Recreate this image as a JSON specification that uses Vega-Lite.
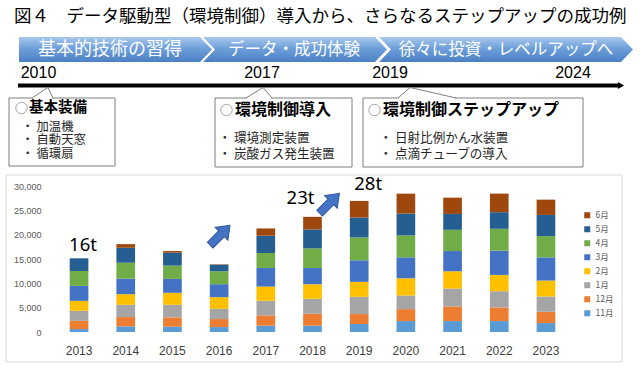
{
  "$schema": "https://vega.github.io/schema/vega-lite/v6.json",
  "autosize": {"type": "none"},
  "padding": {"left": 55, "top": 186, "right": 70, "bottom": 34},
  "width": 515,
  "height": 146,
  "background": "white",
  "config": {"font": "Noto Sans CJK JP", "view": {"stroke": null}},
  "layer": [
    {
      "encoding": {
        "x": {"field": "x", "type": "quantitative", "scale": {"domain": [55, 570], "zero": false, "nice": false}, "axis": null},
        "y": {"field": "y", "type": "quantitative", "scale": {"domain": [186, 332], "reverse": true, "zero": false, "nice": false}, "axis": null}
      },
      "layer": [
        {
          "data": {"values": [{"x": 6, "x2": 622, "y": 175, "y2": 362}]},
          "mark": {"type": "rect", "filled": false, "stroke": "#d9d9d9", "strokeWidth": 1},
          "encoding": {"x2": {"field": "x2"}, "y2": {"field": "y2"}}
        },
        {
          "data": {"values": [{"x": 14, "y": 17, "t": "図４　データ駆動型（環境制御）導入から、さらなるステップアップの成功例"}]},
          "mark": {"type": "text", "align": "left", "baseline": "middle", "fontSize": 17.5, "color": "#000000"},
          "encoding": {"text": {"field": "t"}}
        },
        {
          "data": {"values": [{"x": 115.5, "y": 49.5}]},
          "mark": {"type": "point", "shape": "M -96.5 -12.5 L 84.5 -12.5 L 96.5 0 L 84.5 12.5 L -96.5 12.5 Z", "size": 4, "filled": true, "opacity": 1, "strokeWidth": 0,
            "fill": {"gradient": "linear", "x1": 0, "y1": 0, "x2": 0, "y2": 1, "stops": [{"offset": 0, "color": "#A9C8EC"}, {"offset": 0.45, "color": "#6E9FDA"}, {"offset": 1, "color": "#4C80C4"}]}}
        },
        {
          "data": {"values": [{"x": 295, "y": 49.5}]},
          "mark": {"type": "point", "shape": "M -92 -12.5 L 80 -12.5 L 92 0 L 80 12.5 L -92 12.5 L -80 0 Z", "size": 4, "filled": true, "opacity": 1, "strokeWidth": 0,
            "fill": {"gradient": "linear", "x1": 0, "y1": 0, "x2": 0, "y2": 1, "stops": [{"offset": 0, "color": "#A9C8EC"}, {"offset": 0.45, "color": "#6E9FDA"}, {"offset": 1, "color": "#4C80C4"}]}}
        },
        {
          "data": {"values": [{"x": 506, "y": 49.5}]},
          "mark": {"type": "point", "shape": "M -127 -12.5 L 115 -12.5 L 127 0 L 115 12.5 L -127 12.5 L -115 0 Z", "size": 4, "filled": true, "opacity": 1, "strokeWidth": 0,
            "fill": {"gradient": "linear", "x1": 0, "y1": 0, "x2": 0, "y2": 1, "stops": [{"offset": 0, "color": "#A9C8EC"}, {"offset": 0.45, "color": "#6E9FDA"}, {"offset": 1, "color": "#4C80C4"}]}}
        },
        {
          "data": {"values": [{"x": 110, "y": 49.5, "t": "基本的技術の習得"}]},
          "mark": {"type": "text", "align": "center", "baseline": "middle", "fontSize": 18, "color": "#ffffff"},
          "encoding": {"text": {"field": "t"}}
        },
        {
          "data": {"values": [{"x": 294, "y": 49.5, "t": "データ・成功体験"}, {"x": 506, "y": 49.5, "t": "徐々に投資・レベルアップへ"}]},
          "mark": {"type": "text", "align": "center", "baseline": "middle", "fontSize": 16.5, "color": "#ffffff"},
          "encoding": {"text": {"field": "t"}}
        },
        {
          "data": {"values": [{"x": 38.5, "y": 72.5, "t": "2010"}, {"x": 262, "y": 72.5, "t": "2017"}, {"x": 390, "y": 72.5, "t": "2019"}, {"x": 573, "y": 72.5, "t": "2024"}]},
          "mark": {"type": "text", "align": "center", "baseline": "middle", "fontSize": 16, "font": "Liberation Sans", "color": "#000000"},
          "encoding": {"text": {"field": "t"}}
        },
        {
          "data": {"values": [{"x": 18, "x2": 619, "y": 85.5}]},
          "mark": {"type": "rule", "color": "#000000", "strokeWidth": 4},
          "encoding": {"x2": {"field": "x2"}}
        },
        {
          "data": {"values": [{"x": 621, "y": 85.5}]},
          "mark": {"type": "point", "shape": "triangle-right", "size": 50, "filled": true, "opacity": 1, "color": "#000000"}
        },
        {
          "data": {"values": [{"x": 9, "x2": 115, "y": 98, "y2": 166}, {"x": 215, "x2": 352, "y": 98, "y2": 167}, {"x": 363, "x2": 583, "y": 98, "y2": 167}]},
          "mark": {"type": "rect", "fill": "#ffffff", "stroke": "#7f7f7f", "strokeWidth": 1},
          "encoding": {"x2": {"field": "x2"}, "y2": {"field": "y2"}}
        },
        {
          "data": {"values": [{"x": 33, "x2": 52, "y": 98}, {"x": 247, "x2": 271, "y": 98}, {"x": 399, "x2": 455, "y": 98}]},
          "mark": {"type": "rule", "color": "#ffffff", "strokeWidth": 2.5},
          "encoding": {"x2": {"field": "x2"}}
        },
        {
          "data": {"values": [
            {"g": 1, "x": 32, "y": 98}, {"g": 1, "x": 48, "y": 87.5}, {"g": 1, "x": 53, "y": 98},
            {"g": 2, "x": 246, "y": 98}, {"g": 2, "x": 263, "y": 87.5}, {"g": 2, "x": 272, "y": 98},
            {"g": 3, "x": 398, "y": 98}, {"g": 3, "x": 410, "y": 87.5}, {"g": 3, "x": 456, "y": 98}
          ]},
          "mark": {"type": "line", "color": "#7f7f7f", "strokeWidth": 1},
          "encoding": {"detail": {"field": "g"}}
        },
        {
          "data": {"values": [{"x": 21.5, "y": 108}, {"x": 226.5, "y": 110}, {"x": 374.5, "y": 110}]},
          "mark": {"type": "point", "shape": "circle", "size": 130, "filled": false, "opacity": 1, "stroke": "#a6a6a6", "strokeWidth": 1}
        },
        {
          "data": {"values": [{"x": 29, "y": 108, "t": "基本装備"}]},
          "mark": {"type": "text", "align": "left", "baseline": "middle", "fontSize": 14.5, "fontWeight": "bold", "color": "#000000"},
          "encoding": {"text": {"field": "t"}}
        },
        {
          "data": {"values": [{"x": 235, "y": 110, "t": "環境制御導入"}, {"x": 383, "y": 110, "t": "環境制御ステップアップ"}]},
          "mark": {"type": "text", "align": "left", "baseline": "middle", "fontSize": 16, "fontWeight": "bold", "color": "#000000"},
          "encoding": {"text": {"field": "t"}}
        },
        {
          "data": {"values": [
            {"x": 21.5, "y": 126.5, "t": "・ 加温機"}, {"x": 21.5, "y": 140, "t": "・ 自動天窓"}, {"x": 21.5, "y": 153.5, "t": "・ 循環扇"}
          ]},
          "mark": {"type": "text", "align": "left", "baseline": "middle", "fontSize": 12.3, "color": "#262626"},
          "encoding": {"text": {"field": "t"}}
        },
        {
          "data": {"values": [
            {"x": 218.5, "y": 138, "t": "・ 環境測定装置"}, {"x": 218.5, "y": 153.5, "t": "・ 炭酸ガス発生装置"},
            {"x": 379.5, "y": 138, "t": "・ 日射比例かん水装置"}, {"x": 379.5, "y": 153.5, "t": "・ 点滴チューブの導入"}
          ]},
          "mark": {"type": "text", "align": "left", "baseline": "middle", "fontSize": 12.6, "color": "#262626"},
          "encoding": {"text": {"field": "t"}}
        }
      ]
    },
    {
      "encoding": {
        "x": {"field": "year", "type": "ordinal", "scale": {"paddingInner": 0.6, "paddingOuter": 0.315},
          "axis": {"title": null, "labelAngle": 0, "ticks": false, "domain": false, "labelFont": "Liberation Sans", "labelFontSize": 12, "labelColor": "#404040", "labelPadding": 13}},
        "y": {"field": "v", "type": "quantitative", "scale": {"domain": [0, 30000], "nice": false},
          "axis": {"title": null, "values": [0, 5000, 10000, 15000, 20000, 25000, 30000], "format": ",d", "ticks": false, "domain": false, "labelFont": "Liberation Sans", "labelFontSize": 9, "labelColor": "#595959", "labelPadding": 14, "gridColor": "#d9d9d9", "gridWidth": 1}}
      },
      "layer": [
        {
          "data": {"values": [
            {"year": "2013", "m": "11月", "k": 1, "v": 600}, {"year": "2013", "m": "12月", "k": 2, "v": 1700}, {"year": "2013", "m": "1月", "k": 3, "v": 2050}, {"year": "2013", "m": "2月", "k": 4, "v": 2050}, {"year": "2013", "m": "3月", "k": 5, "v": 3070}, {"year": "2013", "m": "4月", "k": 6, "v": 3070}, {"year": "2013", "m": "5月", "k": 7, "v": 2600}, {"year": "2013", "m": "6月", "k": 8, "v": 0},
            {"year": "2014", "m": "11月", "k": 1, "v": 1160}, {"year": "2014", "m": "12月", "k": 2, "v": 1910}, {"year": "2014", "m": "1月", "k": 3, "v": 2520}, {"year": "2014", "m": "2月", "k": 4, "v": 2180}, {"year": "2014", "m": "3月", "k": 5, "v": 3200}, {"year": "2014", "m": "4月", "k": 6, "v": 3270}, {"year": "2014", "m": "5月", "k": 7, "v": 3070}, {"year": "2014", "m": "6月", "k": 8, "v": 750},
            {"year": "2015", "m": "11月", "k": 1, "v": 1090}, {"year": "2015", "m": "12月", "k": 2, "v": 1910}, {"year": "2015", "m": "1月", "k": 3, "v": 2590}, {"year": "2015", "m": "2月", "k": 4, "v": 2455}, {"year": "2015", "m": "3月", "k": 5, "v": 2865}, {"year": "2015", "m": "4月", "k": 6, "v": 2725}, {"year": "2015", "m": "5月", "k": 7, "v": 2660}, {"year": "2015", "m": "6月", "k": 8, "v": 340},
            {"year": "2016", "m": "11月", "k": 1, "v": 1020}, {"year": "2016", "m": "12月", "k": 2, "v": 1640}, {"year": "2016", "m": "1月", "k": 3, "v": 2110}, {"year": "2016", "m": "2月", "k": 4, "v": 2390}, {"year": "2016", "m": "3月", "k": 5, "v": 2660}, {"year": "2016", "m": "4月", "k": 6, "v": 2660}, {"year": "2016", "m": "5月", "k": 7, "v": 1360}, {"year": "2016", "m": "6月", "k": 8, "v": 80},
            {"year": "2017", "m": "11月", "k": 1, "v": 1300}, {"year": "2017", "m": "12月", "k": 2, "v": 2110}, {"year": "2017", "m": "1月", "k": 3, "v": 3000}, {"year": "2017", "m": "2月", "k": 4, "v": 2930}, {"year": "2017", "m": "3月", "k": 5, "v": 3820}, {"year": "2017", "m": "4月", "k": 6, "v": 3070}, {"year": "2017", "m": "5月", "k": 7, "v": 3550}, {"year": "2017", "m": "6月", "k": 8, "v": 1500},
            {"year": "2018", "m": "11月", "k": 1, "v": 1300}, {"year": "2018", "m": "12月", "k": 2, "v": 2450}, {"year": "2018", "m": "1月", "k": 3, "v": 3070}, {"year": "2018", "m": "2月", "k": 4, "v": 3000}, {"year": "2018", "m": "3月", "k": 5, "v": 3340}, {"year": "2018", "m": "4月", "k": 6, "v": 4020}, {"year": "2018", "m": "5月", "k": 7, "v": 3890}, {"year": "2018", "m": "6月", "k": 8, "v": 2590},
            {"year": "2019", "m": "11月", "k": 1, "v": 1640}, {"year": "2019", "m": "12月", "k": 2, "v": 2045}, {"year": "2019", "m": "1月", "k": 3, "v": 3545}, {"year": "2019", "m": "2月", "k": 4, "v": 3070}, {"year": "2019", "m": "3月", "k": 5, "v": 4430}, {"year": "2019", "m": "4月", "k": 6, "v": 4700}, {"year": "2019", "m": "5月", "k": 7, "v": 4090}, {"year": "2019", "m": "6月", "k": 8, "v": 3410},
            {"year": "2020", "m": "11月", "k": 1, "v": 2250}, {"year": "2020", "m": "12月", "k": 2, "v": 2455}, {"year": "2020", "m": "1月", "k": 3, "v": 2795}, {"year": "2020", "m": "2月", "k": 4, "v": 3545}, {"year": "2020", "m": "3月", "k": 5, "v": 4295}, {"year": "2020", "m": "4月", "k": 6, "v": 4500}, {"year": "2020", "m": "5月", "k": 7, "v": 4500}, {"year": "2020", "m": "6月", "k": 8, "v": 4090},
            {"year": "2021", "m": "11月", "k": 1, "v": 2250}, {"year": "2021", "m": "12月", "k": 2, "v": 3000}, {"year": "2021", "m": "1月", "k": 3, "v": 3680}, {"year": "2021", "m": "2月", "k": 4, "v": 3545}, {"year": "2021", "m": "3月", "k": 5, "v": 4160}, {"year": "2021", "m": "4月", "k": 6, "v": 4360}, {"year": "2021", "m": "5月", "k": 7, "v": 3270}, {"year": "2021", "m": "6月", "k": 8, "v": 3340},
            {"year": "2022", "m": "11月", "k": 1, "v": 2250}, {"year": "2022", "m": "12月", "k": 2, "v": 2795}, {"year": "2022", "m": "1月", "k": 3, "v": 3340}, {"year": "2022", "m": "2月", "k": 4, "v": 3340}, {"year": "2022", "m": "3月", "k": 5, "v": 4980}, {"year": "2022", "m": "4月", "k": 6, "v": 4500}, {"year": "2022", "m": "5月", "k": 7, "v": 3410}, {"year": "2022", "m": "6月", "k": 8, "v": 3820},
            {"year": "2023", "m": "11月", "k": 1, "v": 1840}, {"year": "2023", "m": "12月", "k": 2, "v": 2320}, {"year": "2023", "m": "1月", "k": 3, "v": 3135}, {"year": "2023", "m": "2月", "k": 4, "v": 3270}, {"year": "2023", "m": "3月", "k": 5, "v": 4770}, {"year": "2023", "m": "4月", "k": 6, "v": 4360}, {"year": "2023", "m": "5月", "k": 7, "v": 4360}, {"year": "2023", "m": "6月", "k": 8, "v": 3140}
          ]},
          "mark": {"type": "bar"},
          "encoding": {
            "color": {"field": "m", "type": "nominal",
              "scale": {"domain": ["6月", "5月", "4月", "3月", "2月", "1月", "12月", "11月"], "range": ["#9E480E", "#255E91", "#70AD47", "#4472C4", "#FFC000", "#A5A5A5", "#ED7D31", "#5B9BD5"]},
              "legend": {"orient": "none", "legendX": 528, "legendY": 25, "title": null, "padding": 0, "symbolType": "square", "symbolSize": 36, "symbolStrokeWidth": 0, "labelFontSize": 8.5, "labelColor": "#595959", "labelOffset": 4, "rowPadding": 5}},
            "order": {"field": "k", "type": "quantitative"}
          }
        },
        {
          "data": {"values": [{"year": "2013", "v": 17840, "t": "16t"}]},
          "mark": {"type": "text", "font": "Noto Sans", "fontSize": 18.5, "color": "#000000", "xOffset": 4, "baseline": "middle"},
          "encoding": {"text": {"field": "t"}}
        },
        {
          "data": {"values": [{"year": "2018", "v": 27480, "t": "23t"}]},
          "mark": {"type": "text", "font": "Noto Sans", "fontSize": 18.5, "color": "#000000", "xOffset": -12, "baseline": "middle"},
          "encoding": {"text": {"field": "t"}}
        },
        {
          "data": {"values": [{"year": "2019", "v": 30350, "t": "28t"}]},
          "mark": {"type": "text", "font": "Noto Sans", "fontSize": 18.5, "color": "#000000", "xOffset": 9, "baseline": "middle"},
          "encoding": {"text": {"field": "t"}}
        },
        {
          "data": {"values": [{"year": "2016", "v": 19890}]},
          "mark": {"type": "point", "shape": "M -14 -4 L 2 -4 L 2 -9 L 14 0 L 2 9 L 2 4 L -14 4 Z", "size": 4, "angle": -45, "filled": true, "opacity": 1, "fill": "#4472C4", "stroke": "#2F5597", "strokeWidth": 1, "xOffset": 1}
        },
        {
          "data": {"values": [{"year": "2018", "v": 26450}]},
          "mark": {"type": "point", "shape": "M -14 -4 L 2 -4 L 2 -9 L 14 0 L 2 9 L 2 4 L -14 4 Z", "size": 4, "angle": -45, "filled": true, "opacity": 1, "fill": "#4472C4", "stroke": "#2F5597", "strokeWidth": 1, "xOffset": 17}
        }
      ]
    }
  ],
  "resolve": {"scale": {"x": "independent", "y": "independent"}}
}
